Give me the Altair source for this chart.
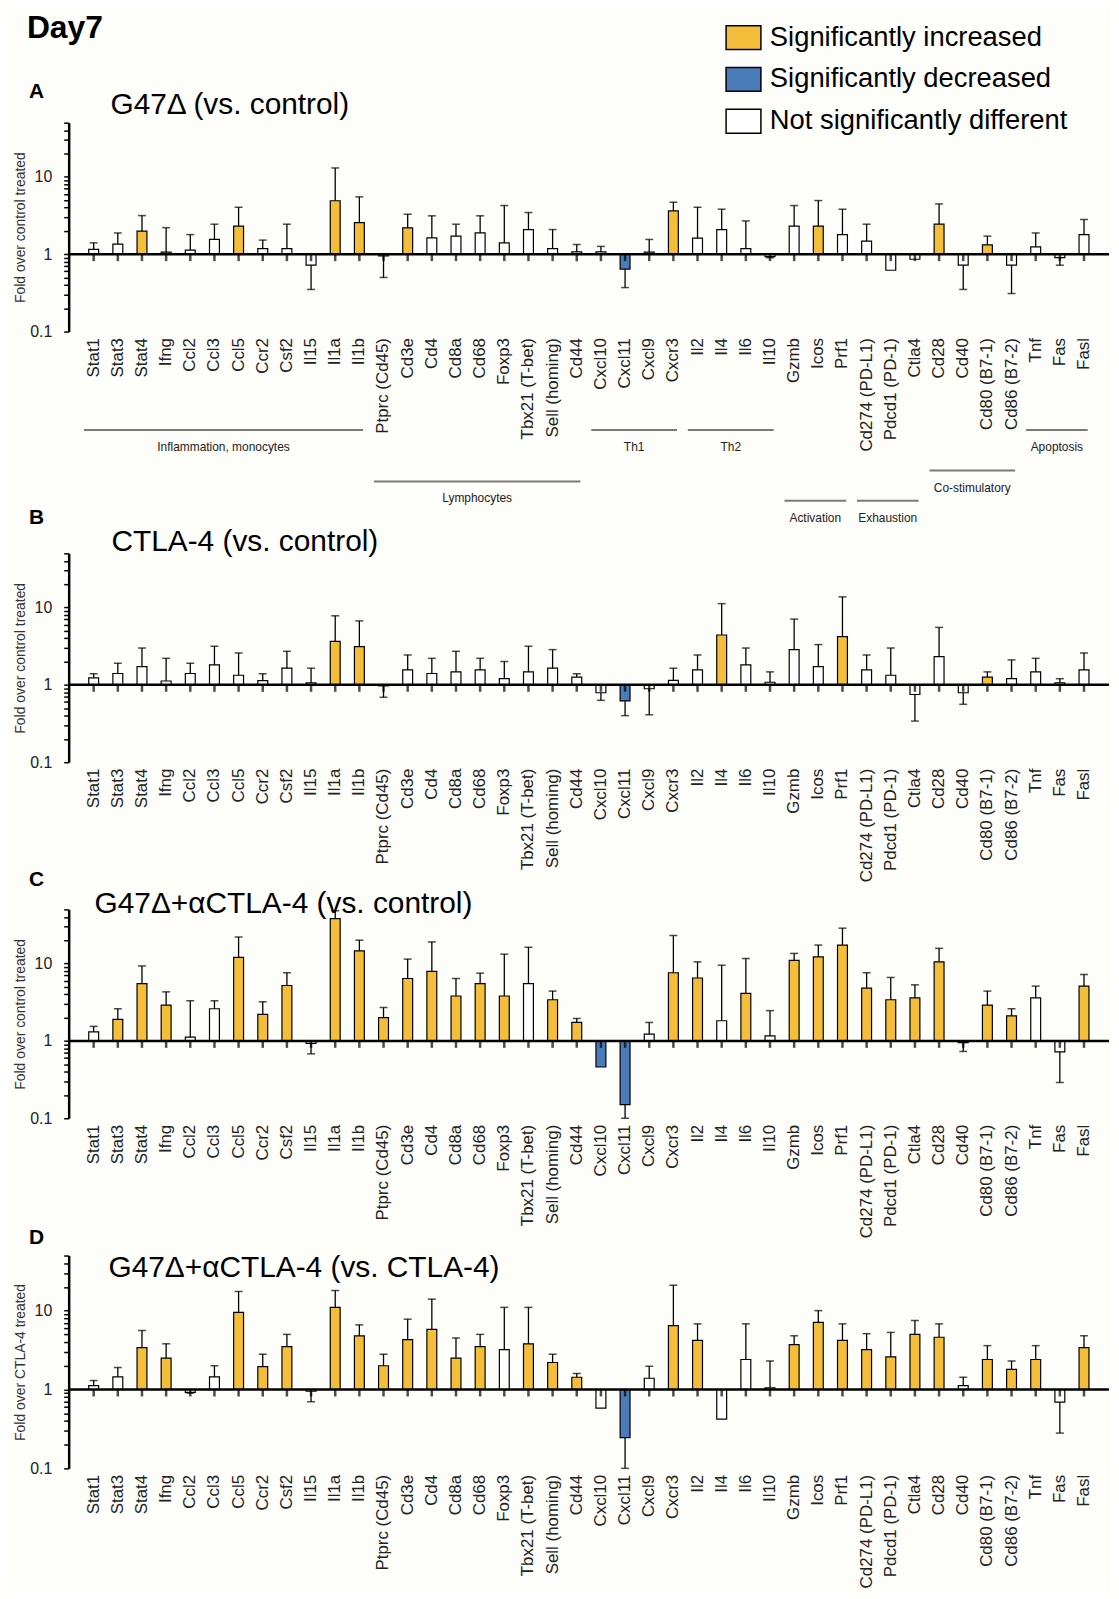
import altair as alt
import pandas as pd

genes = ["Stat1", "Stat3", "Stat4", "Ifng", "Ccl2", "Ccl3", "Ccl5", "Ccr2", "Csf2", "Il15", "Il1a", "Il1b",
         "Ptprc (Cd45)", "Cd3e", "Cd4", "Cd8a", "Cd68", "Foxp3", "Tbx21 (T-bet)", "Sell (homing)", "Cd44",
         "Cxcl10", "Cxcl11", "Cxcl9", "Cxcr3", "Il2", "Il4", "Il6", "Il10", "Gzmb", "Icos", "Prf1",
         "Cd274 (PD-L1)", "Pdcd1 (PD-1)", "Ctla4", "Cd28", "Cd40", "Cd80 (B7-1)", "Cd86 (B7-2)", "Tnf", "Fas", "Fasl"]

categories = ["Significantly increased", "Significantly decreased", "Not significantly different"]
cat_colors = ["#F4BE3A", "#4A7CBA", "#FFFFFF"]
code_map = {"I": categories[0], "D": categories[1], "N": categories[2]}

# Panel A: G47delta vs control
a_val = [1.15, 1.35, 1.98, 1.06, 1.13, 1.55, 2.30, 1.18, 1.18, 0.72, 4.9, 2.56,
         0.95, 2.19, 1.62, 1.71, 1.88, 1.40, 2.08, 1.18, 1.07,
         1.07, 0.64, 1.06, 3.62, 1.61, 2.08, 1.18, 0.93, 2.30, 2.30, 1.79,
         1.47, 0.62, 0.86, 2.44, 0.72, 1.32, 0.72, 1.24, 0.90, 1.79]
a_err = [1.40, 1.88, 3.15, 2.2, 1.79, 2.44, 4.04, 1.52, 2.44, 0.35, 13.0, 5.5,
         0.50, 3.28, 3.13, 2.44, 3.13, 4.25, 3.45, 2.08, 1.33,
         1.26, 0.37, 1.55, 4.69, 4.04, 3.81, 2.69, 0.90, 4.25, 4.93, 3.81,
         2.44, 0.62, 0.86, 4.46, 0.35, 1.71, 0.31, 1.88, 0.72, 2.80]
a_sig = "NNINNNINNNII" "NINNNNNNN" "NDNI" "NNNN" "NIN" "NNN" "ININ" "NNN"

# Panel B: CTLA-4 vs control
b_val = [1.23, 1.40, 1.72, 1.12, 1.40, 1.81, 1.33, 1.13, 1.64, 1.06, 3.65, 3.11,
         0.97, 1.56, 1.40, 1.47, 1.56, 1.20, 1.47, 1.64, 1.26,
         0.79, 0.62, 0.89, 1.14, 1.56, 4.40, 1.81, 1.08, 2.85, 1.72, 4.19,
         1.56, 1.33, 0.75, 2.32, 0.79, 1.26, 1.20, 1.47, 1.06, 1.56]
b_err = [1.39, 1.90, 2.99, 2.20, 1.90, 3.15, 2.58, 1.39, 2.71, 1.64, 7.8, 6.7,
         0.69, 2.43, 2.20, 2.71, 2.20, 2.0, 3.15, 2.85, 1.39,
         0.63, 0.40, 0.41, 1.64, 2.43, 11.2, 2.99, 1.47, 7.07, 3.31, 13.7,
         2.43, 2.99, 0.34, 5.52, 0.56, 1.47, 2.10, 2.20, 1.20, 2.58]
b_sig = "NNNNNNNNNNII" "NNNNNNNNN" "NDNN" "NINN" "NNI" "NNN" "NNIN" "NNN"

# Panel C: G47delta + aCTLA-4 vs control
c_val = [1.31, 1.9, 5.5, 2.9, 1.12, 2.6, 12.0, 2.2, 5.2, 0.93, 38.0, 14.6,
         2.0, 6.4, 7.9, 3.8, 5.5, 3.8, 5.5, 3.4, 1.73,
         0.46, 0.15, 1.22, 7.6, 6.5, 1.82, 4.1, 1.16, 11.0, 12.2, 17.3,
         4.8, 3.4, 3.6, 10.5, 0.95, 2.9, 2.1, 3.6, 0.72, 5.1]
c_err = [1.54, 2.6, 9.3, 4.3, 3.3, 3.3, 22.0, 3.2, 7.6, 0.68, 48.0, 20.0,
         2.7, 11.4, 19.0, 6.4, 7.5, 13.2, 16.2, 4.4, 1.95,
         0.46, 0.10, 1.73, 23.0, 10.5, 9.5, 11.6, 2.46, 13.5, 17.3, 28.6,
         7.6, 6.6, 5.3, 15.7, 0.73, 4.4, 2.6, 5.1, 0.29, 7.2]
c_sig = "NIIINNIIINII" "IIIIIINII" "DDNI" "ININ" "III" "III" "INII" "NNI"

# Panel D: G47delta + aCTLA-4 vs CTLA-4
d_val = [1.12, 1.45, 3.4, 2.5, 0.92, 1.45, 9.5, 1.95, 3.5, 0.95, 11.0, 4.8,
         2.0, 4.3, 5.8, 2.5, 3.5, 3.2, 3.8, 2.2, 1.43,
         0.58, 0.245, 1.39, 6.45, 4.2, 0.42, 2.4, 1.05, 3.7, 7.1, 4.2,
         3.2, 2.6, 5.0, 4.6, 1.12, 2.4, 1.8, 2.4, 0.69, 3.4]
d_err = [1.30, 1.9, 5.6, 3.8, 0.90, 2.0, 17.5, 2.8, 5.0, 0.70, 18.0, 6.6,
         2.8, 7.8, 14.0, 4.5, 5.0, 11.0, 11.0, 2.8, 1.6,
         0.58, 0.10, 1.97, 21.0, 6.8, 0.42, 6.8, 2.3, 4.8, 10.0, 6.8,
         5.1, 5.3, 7.5, 6.8, 1.43, 3.6, 2.3, 3.6, 0.28, 4.8]
d_sig = "NNIINNIIINII" "IIIIINIII" "NDNI" "INNN" "III" "III" "INII" "INI"

# Functional group annotations (panel A)
grp_names = ["Inflammation, monocytes", "Lymphocytes", "Th1", "Th2", "Activation", "Exhaustion",
             "Co-stimulatory", "Apoptosis"]
grp_first = ["Stat1", "Ptprc (Cd45)", "Cxcl10", "Il2", "Gzmb", "Cd274 (PD-L1)", "Cd28", "Tnf"]
grp_last = ["Il1b", "Cd44", "Cxcr3", "Il10", "Prf1", "Ctla4", "Cd86 (B7-2)", "Fasl"]
grp_row = [0, 1.46, 0, 0, 2, 2, 1.15, 0]

y_ticks = [0.1, 0.2, 0.3, 0.4, 0.5, 0.6, 0.7, 0.8, 0.9, 1, 2, 3, 4, 5, 6, 7, 8, 9, 10, 20, 30, 40, 50]

FONT = "Liberation Sans"
W = 1046
PI, PO = 0.59, 0.83
N = len(genes)
CENTER0 = PO + (1 - PI) / 2
TOTAL = N - PI + 2 * PO

X_SCALE = alt.Scale(paddingInner=PI, paddingOuter=PO)
X_AXIS = alt.Axis(title=None, labelAngle=270, labelAlign="right", labelBaseline="middle",
                  labelFontSize=17, labelFont=FONT, labelColor="#222222", labelPadding=6,
                  domain=False, ticks=False, labelLimit=400)
Y_SCALE = alt.Scale(type="log", domain=[0.1, 50], nice=False)
COLOR_SCALE = alt.Scale(domain=categories, range=cat_colors)
LEGEND = alt.Legend(title=None, orient="none", legendX=660, legendY=-104,
                    symbolType="M-1,-0.686H1V0.686H-1Z", symbolSize=1225,
                    symbolStrokeColor="black", symbolStrokeWidth=1.5, symbolOpacity=1,
                    labelFontSize=27.5, labelFont=FONT, labelColor="black", labelOffset=8,
                    rowPadding=8, padding=0, labelLimit=600)


def yaxis(title):
    return alt.Axis(title=title, values=y_ticks,
                    labelExpr="datum.value == 0.1 ? '0.1' : datum.value == 1 ? '1' : datum.value == 10 ? '10' : ''",
                    labelOverlap=False, tickSize=5, tickWidth=1.5, tickColor="black",
                    domainWidth=2.5, domainColor="black", labelFontSize=16, labelFont=FONT,
                    labelColor="#222222", labelPadding=12, titleFontSize=14, titleFont=FONT,
                    titleFontWeight="normal", titleColor="#333333", titlePadding=2, grid=False)


def text_layer(txt, x, y, size, weight="normal"):
    return alt.Chart(pd.DataFrame({"t": [txt]})).mark_text(
        align="left", baseline="alphabetic", fontSize=size, fontWeight=weight, font=FONT, color="black"
    ).encode(x=alt.value(x), y=alt.value(y), text="t:N")


def panel(vals, errs, sigs, ytitle, texts):
    df = pd.DataFrame({"gene": genes, "val": vals, "err": errs,
                       "sig": [code_map[s] for s in sigs], "base": 1.0})
    base = alt.Chart(df)
    yax = yaxis(ytitle)
    x = alt.X("gene:N", sort=genes, scale=X_SCALE, axis=X_AXIS)
    bars = base.mark_bar(stroke="black", strokeWidth=1.2).encode(
        x=x, y=alt.Y("val:Q", scale=Y_SCALE, axis=yax), y2="base:Q",
        color=alt.Color("sig:N", scale=COLOR_SCALE, legend=LEGEND))
    eb = base.transform_filter("datum.err != datum.val")
    errs_l = eb.mark_rule(color="black", strokeWidth=1.3).encode(
        x=x, y=alt.Y("val:Q", scale=Y_SCALE, axis=yax), y2="err:Q")
    caps = eb.mark_tick(color="black", thickness=1.5, size=8).encode(
        x=x, y=alt.Y("err:Q", scale=Y_SCALE, axis=yax))
    line = alt.Chart(pd.DataFrame({"base": [1.0]})).mark_rule(color="black", strokeWidth=2.5).encode(
        y=alt.Y("base:Q", scale=Y_SCALE, axis=yax))
    xt = base.mark_tick(orient="vertical", color="black", thickness=2.5, size=7, yOffset=3.5).encode(
        x=x, y=alt.Y("base:Q", scale=Y_SCALE, axis=yax))
    layers = [bars, errs_l, caps, line, xt] + [text_layer(*t) for t in texts]
    return alt.layer(*layers)


# annotation layers for panel A
gdf = pd.DataFrame({
    "name": grp_names,
    "s": [genes.index(g) - 0.4 for g in grp_first],
    "e": [genes.index(g) + 0.15 for g in grp_last],
    "lvl": grp_row,
})
gdf["m"] = (gdf["s"] + gdf["e"]) / 2
AX_X = alt.Scale(domain=[-CENTER0, TOTAL - CENTER0], nice=False, zero=False)
AX_Y = alt.Scale(domain=[0, 2], range=[309, 380], nice=False, zero=False)
ann_lines = alt.Chart(gdf).mark_rule(color="#7a7a7a", strokeWidth=2).encode(
    x=alt.X("s:Q", scale=AX_X, axis=None), x2="e:Q",
    y=alt.Y("lvl:Q", scale=AX_Y, axis=None))
ann_text = alt.Chart(gdf).mark_text(fontSize=12, font=FONT, color="#222222", baseline="top", dy=12).encode(
    x=alt.X("m:Q", scale=AX_X, axis=None), y=alt.Y("lvl:Q", scale=AX_Y, axis=None), text="name:N")

pA_inner = panel(a_val, a_err, a_sig, "Fold over control treated",
                 [("Day7", -42, -85, 32, "bold"), ("A", -40, -25, 21, "bold"),
                  ("G47Δ (vs. control)", 42, -9, 30), ("B", -40, 403, 21, "bold")])
pA = alt.layer(pA_inner, ann_lines, ann_text).resolve_scale(x="independent", y="independent").properties(
    width=W, height=210)
pB = panel(b_val, b_err, b_sig, "Fold over control treated",
           [("CTLA-4 (vs. control)", 43, -2, 30), ("C", -40, 334, 21, "bold")]).properties(width=W, height=210)
pC = panel(c_val, c_err, c_sig, "Fold over control treated",
           [("G47Δ+αCTLA-4 (vs. control)", 26, 4, 30), ("D", -40, 336, 21, "bold")]).properties(width=W, height=210)
pD = panel(d_val, d_err, d_sig, "Fold over CTLA-4 treated",
           [("G47Δ+αCTLA-4 (vs. CTLA-4)", 40, 22, 30)]).properties(width=W, height=214)

chart = alt.vconcat(pA, pB, pC, pD, spacing=0).properties(
    padding={"left": 5, "right": 0, "top": 0, "bottom": 0},
    background="#fdfdfa",
).configure_view(stroke=None)

chart.save("out.html", embed_options={"renderer": "svg", "actions": False})
